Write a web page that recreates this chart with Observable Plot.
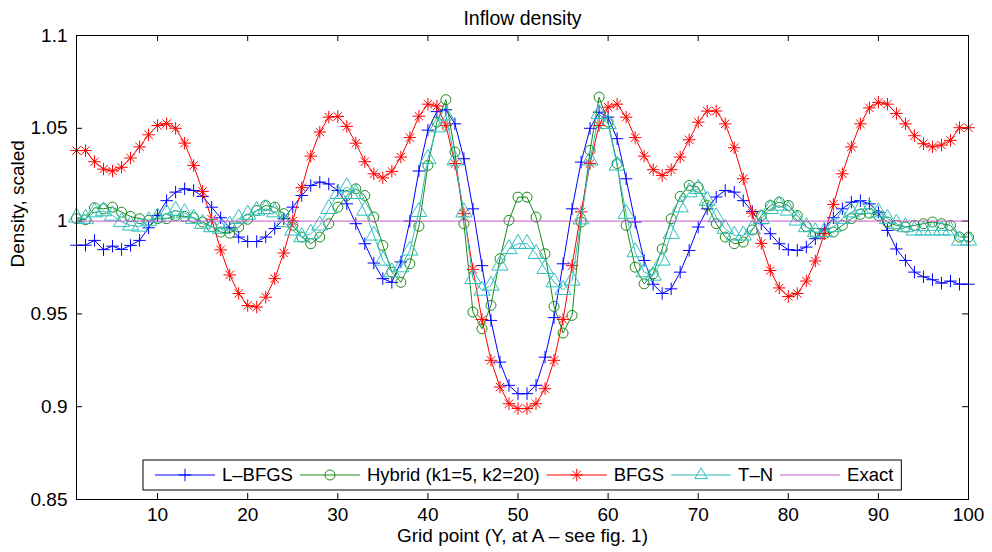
<!DOCTYPE html>
<html><head><meta charset="utf-8">
<script src="https://cdn.jsdelivr.net/npm/d3@7"></script>
<script src="https://cdn.jsdelivr.net/npm/@observablehq/plot@0.6"></script>
<style>body{margin:0;background:#fff;} svg{display:block;}</style>
</head><body><div id="chart"></div>
<script>
// ---------- data ----------
const gridPoints = [1,2,3,4,5,6,7,8,9,10,11,12,13,14,15,16,17,18,19,20,21,22,23,24,25,26,27,28,29,30,31,32,33,34,35,36,37,38,39,40,41,42,43,44,45,46,47,48,49,50,51,52,53,54,55,56,57,58,59,60,61,62,63,64,65,66,67,68,69,70,71,72,73,74,75,76,77,78,79,80,81,82,83,84,85,86,87,88,89,90,91,92,93,94,95,96,97,98,99,100];

const lbfgs = [0.987,0.987,0.9896,0.9846,0.9865,0.9847,0.9869,0.9896,0.9964,1.003,
  1.011,1.0156,1.0174,1.0165,1.0133,1.0075,1.0018,0.9964,0.9914,0.989,
  0.989,0.9914,0.996,1.0013,1.0075,1.0138,1.0192,1.021,1.020,1.0165,
  1.0093,0.9986,0.9878,0.9774,0.969,0.967,0.978,1.0,1.027,1.049,
  1.059,1.060,1.0524,1.0336,1.0066,0.976,0.9465,0.924,0.9115,0.907,
  0.907,0.9115,0.9267,0.948,0.977,1.0066,1.0318,1.050,1.0587,1.056,
  1.0444,1.0228,0.9995,0.9788,0.966,0.961,0.9635,0.9725,0.9842,0.9968,
  1.0066,1.013,1.0165,1.0156,1.011,1.0052,0.9986,0.9932,0.9878,0.9846,
  0.9842,0.986,0.9905,0.9959,1.0018,1.0066,1.0102,1.011,1.0093,1.0048,
  0.995,0.985,0.9788,0.9725,0.970,0.9684,0.9666,0.9677,0.966,0.966];

const hybrid = [1.0013,1.0007,1.0072,1.0066,1.0075,1.0048,1.0025,1.0013,1.0004,1.0013,
  1.0013,1.003,1.0025,1.0018,0.9995,0.9971,0.9941,0.9935,0.9968,1.001,
  1.0057,1.0084,1.0075,1.004,0.9977,0.9914,0.9878,0.9914,0.9986,1.0075,
  1.0138,1.0174,1.0138,1.0022,0.9869,0.9725,0.967,0.977,0.9972,1.030,
  1.0533,1.0654,1.0372,0.9986,0.951,0.942,0.9546,0.9797,1.0004,1.0129,
  1.0129,1.0022,0.9824,0.954,0.9397,0.9492,0.9995,1.0381,1.0668,1.0533,
  1.031,0.9977,0.9752,0.9662,0.9716,0.985,1.0013,1.0133,1.0192,1.0183,
  1.0084,0.9986,0.9914,0.9878,0.9887,0.9952,1.003,1.0084,1.0102,1.0084,
  1.003,0.9971,0.9935,0.9932,0.9941,0.9977,1.0013,1.0036,1.0043,1.003,
  0.9995,0.9977,0.9968,0.9977,0.9986,0.9995,0.9986,0.9977,0.9914,0.9914];

const bfgs = [1.038,1.038,1.032,1.028,1.027,1.029,1.034,1.040,1.0465,1.0515,
  1.0525,1.050,1.042,1.030,1.016,1.001,0.9845,0.971,0.961,0.9545,
  0.9537,0.959,0.969,0.9828,1.000,1.018,1.035,1.048,1.056,1.0564,
  1.051,1.042,1.032,1.0255,1.0233,1.0268,1.0345,1.045,1.0565,1.063,
  1.062,1.0515,1.031,1.004,0.974,0.947,0.925,0.9106,0.9016,0.899,
  0.899,0.9016,0.9097,0.925,0.947,0.976,1.005,1.031,1.0515,1.0614,
  1.063,1.056,1.045,1.035,1.0277,1.0246,1.0277,1.0345,1.0438,1.0533,
  1.0593,1.0593,1.0524,1.0395,1.0228,1.0043,0.988,0.9734,0.964,0.9594,
  0.961,0.9677,0.9785,0.9932,1.009,1.0255,1.040,1.0524,1.061,1.064,
  1.063,1.058,1.0524,1.046,1.0417,1.040,1.041,1.0435,1.0503,1.0503];

const tn = [1.002,1.0013,1.0048,1.0054,1.003,0.9995,0.9977,0.9971,1.0,1.002,
  1.004,1.0057,1.0043,1.0013,0.9986,0.9968,0.9959,0.9977,1.0013,1.0035,
  1.0057,1.0066,1.0048,0.9995,0.995,0.9914,0.9932,0.9977,1.0066,1.0147,
  1.0183,1.0147,1.0057,0.9923,0.9788,0.9725,0.9752,0.9842,1.005,1.0336,
  1.0506,1.057,1.0327,1.0048,0.9689,0.9626,0.9653,0.9761,0.985,0.9878,
  0.9878,0.9824,0.9743,0.9671,0.963,0.968,1.001,1.0327,1.0578,1.0524,
  1.030,1.004,0.9833,0.9725,0.9707,0.9788,0.9932,1.0075,1.0156,1.0174,
  1.011,1.0022,0.9959,0.9923,0.9923,0.9956,1.0013,1.0066,1.0084,1.0057,
  1.0004,0.9968,0.9941,0.9941,0.9968,1.0013,1.0048,1.0066,1.0066,1.0048,
  1.0013,0.9986,0.9968,0.995,0.995,0.995,0.995,0.995,0.9896,0.9896];

const exact = [1,1,1,1,1,1,1,1,1,1,1,1,1,1,1,1,1,1,1,1,1,1,1,1,1,1,1,1,1,1,1,1,1,1,1,1,1,1,1,1,1,1,1,1,1,1,1,1,1,1,1,1,1,1,1,1,1,1,1,1,1,1,1,1,1,1,1,1,1,1,1,1,1,1,1,1,1,1,1,1,1,1,1,1,1,1,1,1,1,1,1,1,1,1,1,1,1,1,1,1];

const seriesNames = ["L–BFGS", "Hybrid (k1=5, k2=20)", "BFGS", "T–N", "Exact"];
const seriesValues = [lbfgs, hybrid, bfgs, tn, exact];
const xTicks = [10,20,30,40,50,60,70,80,90,100];
const yTicks = [0.85,0.9,0.95,1,1.05,1.1];
const titleText = "Inflow density";
const xLabel = "Grid point (Y, at A – see fig. 1)";
const yLabel = "Density, scaled";

// ---------- styles ----------
const colors = ["#0000ff", "#1a8a1a", "#ff0000", "#2ebfbf", "#c855c8"];
const symbols = [["plus"], ["circle"], ["plus", "times"], ["triangle"], []];
const symbolR = {plus: 4.1, circle: 5, times: 3.9, triangle: 6};
const d3Sym = {plus: d3.symbolPlus, circle: d3.symbolCircle, times: d3.symbolTimes, triangle: d3.symbolTriangle2};

const table = seriesNames.flatMap((name, i) =>
  gridPoints.map((n, j) => ({series: name, n, v: seriesValues[i][j]})));

const W = 992, H = 552, mt = 35, mb = 53, ml = 76, mr = 24;
const plotW = W - ml - mr, plotH = H - mt - mb;
const font = "'Liberation Sans', Arial, Helvetica, sans-serif";

const seriesMarks = seriesNames.flatMap((name, i) => {
  const d = table.filter(r => r.series === name);
  const m = [Plot.line(d, {x: "n", y: "v", stroke: colors[i], strokeWidth: 1})];
  for (const s of symbols[i]) {
    m.push(Plot.dot(d, {x: "n", y: "v", symbol: s, r: symbolR[s], stroke: colors[i], strokeWidth: 1, fill: "none"}));
  }
  return m;
});

const chart = Plot.plot({
  width: W, height: H,
  marginTop: mt, marginBottom: mb, marginLeft: ml, marginRight: mr,
  style: {fontFamily: font, fontSize: "19px", background: "#fff", color: "#000"},
  x: {domain: [1, 100]},
  y: {domain: [0.85, 1.1]},
  marks: [
    Plot.axisX(xTicks, {tickSize: 0, tickPadding: 8, label: null}),
    Plot.axisY(yTicks, {tickSize: 0, tickPadding: 9, label: null, tickFormat: d3.format("~g")}),
    Plot.tickX(xTicks, {x: d => d, insetTop: plotH - 6, stroke: "#000"}),
    Plot.tickX(xTicks, {x: d => d, insetBottom: plotH - 6, stroke: "#000"}),
    Plot.tickY(yTicks, {y: d => d, insetRight: plotW - 6, stroke: "#000"}),
    Plot.tickY(yTicks, {y: d => d, insetLeft: plotW - 6, stroke: "#000"}),
    ...seriesMarks,
    Plot.frame({stroke: "#000"}),
    Plot.text([titleText], {text: d => d, frameAnchor: "top", dy: -11, lineAnchor: "bottom", fontSize: 19.5}),
    Plot.text([xLabel], {text: d => d, frameAnchor: "bottom", dy: 42, fontSize: 19}),
    Plot.text([yLabel], {text: d => d, frameAnchor: "left", dx: -59, rotate: -90, fontSize: 19})
  ]
});
document.getElementById("chart").append(chart);

// ---------- legend (inside the plot, bottom) ----------
const svg = d3.select(chart);
const lg = svg.append("g").attr("font-family", font).attr("font-size", 18.5).attr("text-anchor", "start");
const box = lg.append("rect").attr("fill", "#fff").attr("stroke", "#000");
const boxX = 143, boxY = 460, boxH = 30, cy = boxY + boxH / 2;
let x = boxX + 12;
seriesNames.forEach((name, i) => {
  lg.append("line").attr("x1", x).attr("x2", x + 60).attr("y1", cy).attr("y2", cy)
    .attr("stroke", colors[i]).attr("stroke-width", 1);
  for (const s of symbols[i]) {
    lg.append("path").attr("d", d3.symbol(d3Sym[s], Math.PI * symbolR[s] ** 2)())
      .attr("transform", `translate(${x + 30},${cy})`)
      .attr("fill", "none").attr("stroke", colors[i]).attr("stroke-width", 1);
  }
  x += 67;
  const t = lg.append("text").attr("x", x).attr("y", cy).attr("dy", "0.35em").attr("text-anchor", "start").text(name);
  x += t.node().getComputedTextLength() + 7;
});
box.attr("x", boxX).attr("y", boxY).attr("width", x - boxX + 1).attr("height", boxH);
</script>
</body></html>
